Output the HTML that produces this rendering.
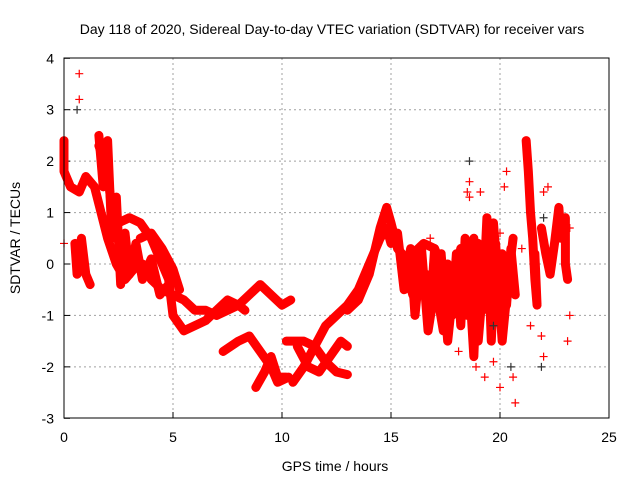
<!DOCTYPE html>
<html><head><meta charset="utf-8"><style>
body{margin:0;background:#fff;}
svg text{font-family:"Liberation Sans",sans-serif;font-size:14px;fill:#000;}
</style></head><body>
<svg id="chart" width="640" height="480">
<text x="332" y="34" text-anchor="middle">Day 118 of 2020, Sidereal Day-to-day VTEC variation (SDTVAR) for receiver vars</text>
<text x="335" y="471" text-anchor="middle">GPS time / hours</text>
<text transform="translate(20,238) rotate(-90)" text-anchor="middle">SDTVAR / TECUs</text>
<g id="grid"></g><g id="ticks"></g><g id="data"></g>
<rect x="64" y="58" width="545" height="360" fill="none" stroke="#000" stroke-width="1"/>
</svg>
<script>
const xTicks=[0,5,10,15,20,25];
const yTicks=[-3,-2,-1,0,1,2,3,4];
const trackA=[[0,2.4],[0,1.8],[0.3,1.5],[0.7,1.4],[1,1.7],[1.4,1.5],[1.7,1.0],[2.0,0.5],[2.4,0.0],[2.8,-0.3],[3.2,-0.1],[3.6,0],[4,-0.3],[4.5,-0.5],[5,-0.6],[5.5,-0.7],[6,-0.9],[6.5,-0.9],[7,-1.0],[7.5,-0.9],[8,-0.8],[8.5,-0.6],[9,-0.4],[9.5,-0.6],[10,-0.8],[10.4,-0.7]];
const trackB=[[1.6,2.3],[2,1.8],[2.2,1.0],[2.5,0.8],[3,0.9],[3.5,0.8],[4,0.5],[4.3,0.2],[4.8,-0.3],[5,-1.0],[5.5,-1.3],[6,-1.2],[6.5,-1.1],[7,-0.9],[7.5,-0.7],[8,-0.8],[8.3,-0.9]];
const trackB2=[[7.3,-1.7],[8,-1.5],[8.5,-1.4],[9,-1.7],[9.5,-2.0],[9.8,-2.3],[10.3,-2.2]];
const trackC=[[3.5,0.5],[4,0.6],[4.5,0.3],[5,-0.1],[5.3,-0.5]];
const trackD=[[0.5,0.4],[0.6,-0.2],[0.8,0.5],[1,-0.2],[1.2,-0.4]];
const trackE=[[8.8,-2.4],[9.2,-2.1],[9.5,-1.8],[9.8,-2.2],[10.2,-2.2]];
const trackF=[[10.2,-1.5],[11,-1.5],[11.5,-1.6],[12,-1.9],[12.5,-2.1],[13,-2.15]];
const trackF2=[[10.7,-1.6],[11.2,-2.0],[11.7,-2.1],[12.2,-1.8],[12.7,-1.5],[13,-1.6]];
const trackG=[[10.5,-2.3],[11,-2.0],[11.5,-1.6],[12,-1.2],[12.5,-1.0],[13,-0.8],[13.5,-0.5],[14,0.0],[14.5,0.5],[14.8,0.7],[15,0.4]];
const trackH=[[13,-0.9],[13.5,-0.7],[14,-0.2],[14.5,0.7],[14.8,1.1],[15,0.8],[15.3,0.3],[15.7,0.1],[16,0.2],[16.5,0.4],[17,0.3],[17.3,0.0]];
const trackK=[[1.6,2.5],[1.8,1.5],[2.0,2.4],[2.2,0.5],[2.4,1.3],[2.6,-0.4],[2.8,0.6],[3.0,-0.2],[3.3,0.4],[3.6,-0.3],[4,0.1],[4.4,-0.6],[4.8,-0.4]];
const trackN=[[15.5,0.2],[15.8,-0.3],[16.0,-0.6],[16.2,0.1],[16.4,-0.5],[16.6,-0.2],[16.8,-1.0],[17.0,0.3],[17.2,-0.8],[17.4,-1.3],[17.6,0.0],[17.8,-1.0],[18.0,0.2],[18.2,-1.2],[18.4,0.5],[18.6,-0.4],[18.8,-1.8],[19.0,0.4],[19.2,-0.9],[19.4,0.9],[19.6,-1.5],[19.8,0.4],[20.0,-1.0],[20.1,0.2],[20.3,-0.8],[20.5,0.3],[20.7,-0.6]];
const trackN2=[[15.3,0.6],[15.6,-0.5],[15.9,0.3],[16.1,-1.0],[16.4,0.3],[16.7,-1.3],[17,-0.5],[17.3,0.2],[17.6,-1.5],[17.9,-0.3],[18.2,0.3],[18.5,-1.0],[18.8,0.5],[19.0,-1.5],[19.3,0.0],[19.5,-0.6],[19.7,0.8],[19.9,-0.3],[20.1,-1.5],[20.4,-0.2],[20.6,0.5]];
const trackI=[[21.2,2.4],[21.3,1.8],[21.4,1.0],[21.5,0.5],[21.6,-0.3],[21.7,-0.8],[21.6,0.2]];
const trackJ=[[21.9,0.7],[22.1,0.2],[22.3,-0.2],[22.5,0.4],[22.7,1.1],[22.8,0.5],[23.0,0.9],[23.0,0.0],[23.1,-0.3]];
const scatterRed=[[0.7,3.7],[0.7,3.2],[0,0.4],[16.8,0.5],[17.5,-0.6],[18.1,-1.7],[18.5,1.4],[18.6,1.6],[18.6,1.3],[18.9,-2.0],[19.1,1.4],[19.3,-2.2],[19.6,0.5],[19.7,-1.9],[20.0,-2.4],[20.2,1.5],[20.2,-0.2],[20.3,1.8],[20.7,-2.7],[20.6,-2.2],[20.0,0.6],[21.0,0.3],[21.4,-1.2],[21.9,-1.4],[22.0,1.4],[22.2,1.5],[22.0,-1.8],[23.2,-1.0],[23.1,-1.5],[23.2,0.7]];
const scatterBlack=[[0.6,3.0],[18.6,2.0],[20.5,-2.0],[19.7,-1.2],[21.9,-2.0],[22.0,0.9]];
const tracks=[trackA,trackB,trackB2,trackC,trackD,trackE,trackF,trackF2,trackG,trackH,trackK,trackN,trackN2,trackI,trackJ];
const X=v=>64+v*21.8, Y=v=>264-v*51.43;
const NS="http://www.w3.org/2000/svg";
const g=document.getElementById('grid'),tk=document.getElementById('ticks'),d=document.getElementById('data');
function mk(tag,at,par){const e=document.createElementNS(NS,tag);for(const k in at)e.setAttribute(k,at[k]);par.appendChild(e);return e;}
xTicks.forEach(v=>{
 if(v>0&&v<25){const l=mk('line',{x1:X(v),x2:X(v),y1:58,y2:418,stroke:'#a0a0a0','stroke-dasharray':'2,3'},g);
 
 }
 mk('line',{x1:X(v),x2:X(v),y1:418,y2:412,stroke:'#000'},tk);
 const t=mk('text',{x:X(v),y:442,'text-anchor':'middle'},tk);t.textContent=v;
 
 
});
yTicks.forEach(v=>{
 if(v>-3&&v<4){const l=mk('line',{x1:64,x2:609,y1:Y(v),y2:Y(v),stroke:'#a0a0a0','stroke-dasharray':'2,3'},g);
 
 }
 mk('line',{x1:64,x2:70,y1:Y(v),y2:Y(v),stroke:'#000'},tk);
 const t=mk('text',{x:54,y:Y(v)+5,'text-anchor':'end'},tk);t.textContent=v;
 
 
});
function plus(p,c){const e=mk('path',{d:`M${X(p[0])-4},${Y(p[1])}h8M${X(p[0])},${Y(p[1])-4}v8`,stroke:c,'stroke-width':1.2},d);return e;}
tracks.forEach(t=>{
 const pl=mk('polyline',{points:t.map(p=>X(p[0])+','+Y(p[1])).join(' '),fill:'none',stroke:'#f00','stroke-width':9,'stroke-linejoin':'round','stroke-linecap':'round'},d);
 
 
 t.forEach(p=>{const e=plus(p,'#f00');
 
 });
});
scatterBlack.forEach(p=>{const e=plus(p,'#333');
 
 });
scatterRed.forEach(p=>{const e=plus(p,'#f00');
 
 });
</script>
</body></html>
